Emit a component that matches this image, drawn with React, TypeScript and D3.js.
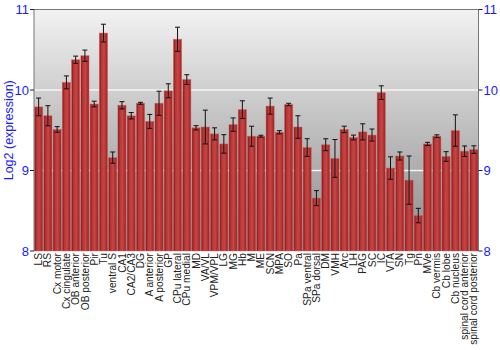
import React from "react";
import * as d3 from "d3";

const categories = ["LS","RS","Cx motor","Cx cingulate","OB anterior","OB posterior","Pir","Tu","ventral S","CA1","CA2/CA3","DG","A anterior","A posterior","GP","CPu lateral","CPu medial","MD","VA/VL","VPM/VPL","LG","MG","Hb","M","ME","SCN","MPA","SO","Pa","SPa ventral","SPa dorsal","DM","VMH","Arc","LH","PAG","SC","IC","VTA","SN","Tg","Pn","MVe","Cb vermis","Cb lobe","Cb nucleus","spinal cord anterior","spinal cord posterior"];
const values = [9.79,9.68,9.51,10.095,10.376,10.426,9.826,10.707,9.16,9.81,9.68,9.835,9.61,9.835,9.99,10.63,10.13,9.53,9.54,9.455,9.33,9.57,9.756,9.426,9.426,9.80,9.475,9.82,9.54,9.285,8.657,9.32,9.15,9.51,9.41,9.48,9.44,9.967,9.03,9.18,8.88,8.44,9.33,9.426,9.174,9.496,9.24,9.26];
const errors = [0.11,0.125,0.035,0.08,0.045,0.07,0.035,0.11,0.07,0.045,0.04,0.012,0.087,0.15,0.087,0.15,0.06,0.027,0.21,0.075,0.115,0.083,0.11,0.124,0.012,0.1,0.02,0.015,0.14,0.11,0.093,0.074,0.235,0.04,0.03,0.1,0.075,0.085,0.14,0.05,0.3,0.09,0.02,0.017,0.06,0.195,0.065,0.047];
const yTicks = [8, 9, 10, 11];

export default function App() {
  const W = 500, H = 350;
  const left = 34, right = 478.5, top = 9.5, bottom = 251;
  const x = d3.scaleBand<string>().domain(categories).range([left, right]).paddingInner(0.12).paddingOuter(0.06);
  const y = d3.scaleLinear().domain([8, 11]).range([bottom, top]);
  const bw = x.bandwidth();
  return (
    <svg width={W} height={H} style={{ position: "absolute", left: 0, top: 0 }} fontFamily="Liberation Sans, Arial, sans-serif">
      <defs>
        <linearGradient id="bg" x1="0" y1="0" x2="0" y2="1">
          <stop offset="0" stopColor="#f2f2f2" />
          <stop offset="1" stopColor="#8a8a8a" />
        </linearGradient>
        <linearGradient id="bar" x1="0" y1="0" x2="1" y2="0">
          <stop offset="0" stopColor="#7a1515" />
          <stop offset="0.25" stopColor="#b83535" />
          <stop offset="0.55" stopColor="#c84545" />
          <stop offset="1" stopColor="#9a2222" />
        </linearGradient>
      </defs>
      <rect x={0} y={0} width={W} height={H} fill="#fff" />
      <rect x={left} y={top} width={right - left} height={bottom - top} fill="url(#bg)" />
      {yTicks.filter(t => t > 8 && t < 11).map(t => (
        <line key={"g" + t} x1={left} x2={right} y1={y(t)} y2={y(t)} stroke="#f4f4f4" strokeWidth={1.5} />
      ))}
      {categories.map((c, i) => {
        const x0 = x(c)!;
        const yv = y(values[i]);
        const cx = x0 + bw / 2;
        const e1 = y(values[i] + errors[i]);
        const e2 = y(values[i] - errors[i]);
        return (
          <g key={c}>
            <rect x={x0} y={yv} width={bw} height={bottom - yv} fill="url(#bar)" stroke="#d06060" strokeOpacity={0.6} strokeWidth={0.8} />
            <line x1={cx} x2={cx} y1={e1} y2={e2} stroke="#111" strokeWidth={1} />
            <line x1={cx - 2.5} x2={cx + 2.5} y1={e1} y2={e1} stroke="#111" strokeWidth={1} />
            <line x1={cx - 2.5} x2={cx + 2.5} y1={e2} y2={e2} stroke="#111" strokeWidth={1} />
          </g>
        );
      })}
      <line x1={left} x2={right} y1={top} y2={top} stroke="#777" strokeWidth={1} />
      <line x1={left} x2={left} y1={top} y2={bottom} stroke="#777" strokeWidth={1} />
      <line x1={right} x2={right} y1={top} y2={bottom} stroke="#777" strokeWidth={1} />
      {yTicks.map(t => (
        <g key={"t" + t}>
          <line x1={left - 4} x2={left} y1={y(t)} y2={y(t)} stroke="#222" />
          <line x1={right} x2={right + 4} y1={y(t)} y2={y(t)} stroke="#222" />
          <text x={left - 5} y={y(t)} dy="0.35em" textAnchor="end" fontSize={13} fill="#1a1aff">{t}</text>
          <text x={right + 5} y={y(t)} dy="0.35em" textAnchor="start" fontSize={13} fill="#1a1aff">{t}</text>
        </g>
      ))}
      <text transform={`translate(13,${(top + bottom) / 2}) rotate(-90)`} textAnchor="middle" fontSize={12.5} fill="#1a1aff">Log2 (expression)</text>
      {categories.map(c => (
        <text key={"l" + c} transform={`translate(${x(c)! + bw / 2},${bottom + 2}) rotate(-90)`} textAnchor="end" dy="0.35em" fontSize={10.2} fill="#222">{c}</text>
      ))}
    </svg>
  );
}
